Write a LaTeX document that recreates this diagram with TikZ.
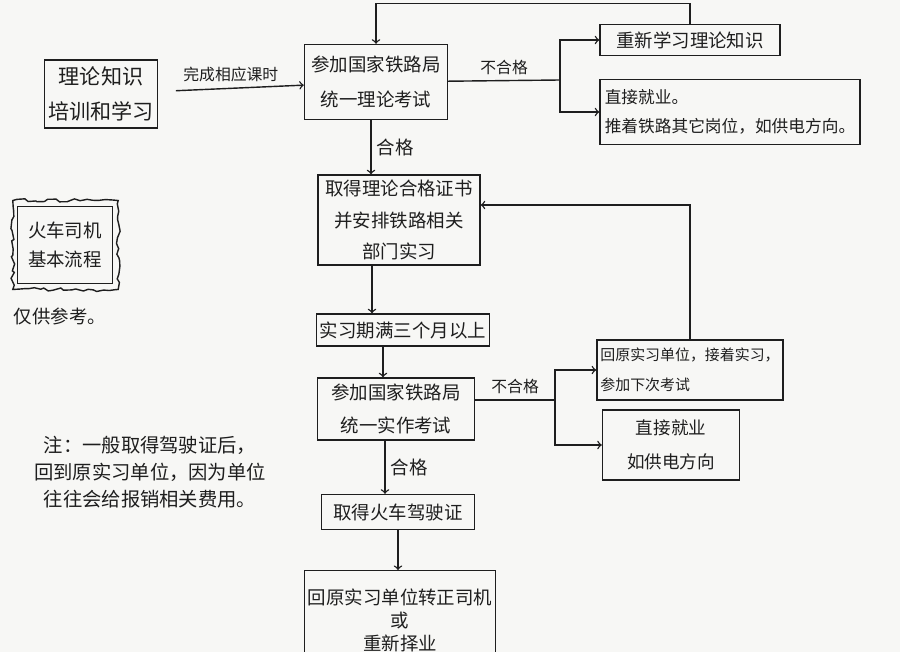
\documentclass[tikz,border=0pt]{standalone}
\usepackage{fontspec}
\setmainfont{Noto Sans CJK SC}
\usepackage{tikz}
\usetikzlibrary{arrows,positioning,calc}
\usetikzlibrary{decorations.pathmorphing}
\tikzstyle{stepbox}=[shape=rectangle,draw=ink,thick,align=center,inner sep=2pt]
\tikzstyle{flowedge}=[->,thick,draw=ink]
\tikzstyle{edgelabel}=[font=\fontsize{9}{11}\selectfont,inner sep=3pt,text=ink]
\definecolor{paper}{RGB}{247,247,245}
\definecolor{ink}{RGB}{30,30,30}

\begin{document}
\begin{tikzpicture}[x=0.2mm,y=-0.2mm,text=ink]

\clip (0,0) rectangle (900,652);
\fill[paper] (0,0) rectangle (900,652);

% main column
\node[stepbox,minimum width=22.4mm,minimum height=13.6mm,font=\fontsize{12}{20}\selectfont] (THEORY) at (101,94) {理论知识\\培训和学习};

\node[stepbox,minimum width=28.6mm,minimum height=15mm,font=\fontsize{10.5}{20}\selectfont] (EXAM1) at (376,82) {参加国家铁路局\\统一理论考试};

\node[stepbox,minimum width=36mm,minimum height=6.2mm,font=\fontsize{10.5}{14}\selectfont] (RELEARN) at (690,40) {重新学习理论知识};

\node[stepbox,minimum width=52mm,minimum height=13mm,align=left,font=\fontsize{9.5}{16.5}\selectfont] (JOB1) at (730,112) {直接就业。\\推着铁路其它岗位，如供电方向。};

\node[stepbox,minimum width=32.4mm,minimum height=18mm,font=\fontsize{10.5}{18}\selectfont] (PRACTICE) at (399,220) {取得理论合格证书\\并安排铁路相关\\部门实习};

\node[stepbox,minimum width=34mm,minimum height=6.4mm,font=\fontsize{10.5}{14}\selectfont] (TERM) at (403,330) {实习期满三个月以上};

\node[stepbox,minimum width=31.4mm,minimum height=12.4mm,font=\fontsize{10.5}{19}\selectfont] (EXAM2) at (396,409) {参加国家铁路局\\统一实作考试};

\node[stepbox,minimum width=36mm,minimum height=12mm,align=left,font=\fontsize{8.5}{17}\selectfont] (RETRY) at (690,370) {回原实习单位，接着实习，\\参加下次考试};

\node[stepbox,minimum width=27.4mm,minimum height=14mm,font=\fontsize{10}{19}\selectfont] (JOB2) at (671,445) {直接就业\\如供电方向};

\node[stepbox,minimum width=30.6mm,minimum height=7mm,font=\fontsize{10.5}{14}\selectfont] (LICENSE) at (398,512) {取得火车驾驶证};

\node[stepbox,minimum width=38mm,minimum height=20mm,anchor=north,font=\fontsize{10.5}{13}\selectfont] (FINAL) at (400,570) {回原实习单位转正司机\\或\\重新择业};

% side notes
\node[stepbox,minimum width=19mm,minimum height=15.5mm,font=\fontsize{10.5}{17}\selectfont] (TITLE) at (65,245) {火车司机\\基本流程};
\draw[ink,thick,decorate,decoration={random steps,segment length=3pt,amplitude=1.2pt}]
 ([shift={(-4,-5)}]TITLE.north west) rectangle ([shift={(5,5)}]TITLE.south east);
\node[font=\fontsize{10.5}{14}\selectfont] (ONLY) at (60,316) {仅供参考。};

\node[align=center,font=\fontsize{11}{15.5}\selectfont] (NOTE) at (150,472) {注：一般取得驾驶证后，\\回到原实习单位，因为单位\\往往会给报销相关费用。};

\coordinate (SPLIT1) at (560,80);
\coordinate (SPLIT2) at (555,400);

\path
(THEORY) edge [flowedge,shorten <=3.6mm] node[edgelabel,above] {完成相应课时} (EXAM1)
([xshift=-1mm]EXAM1.south) edge [flowedge] node[edgelabel,right,font=\fontsize{10.5}{12}\selectfont] {合格} ([xshift=-1mm]EXAM1.south |- PRACTICE.north)
([xshift=-5.4mm]PRACTICE.south) edge [flowedge] ([xshift=-5.4mm]PRACTICE.south |- TERM.north)
([xshift=-4mm]TERM.south) edge [flowedge] ([xshift=-4mm]TERM.south |- EXAM2.north)
([xshift=-2.2mm]EXAM2.south) edge [flowedge] node[edgelabel,right,font=\fontsize{10.5}{12}\selectfont] {合格} ([xshift=-2.2mm]EXAM2.south |- LICENSE.north)
(LICENSE.south) edge [flowedge] (LICENSE.south |- FINAL.north);

\draw[thick,ink] (EXAM1) -- node[edgelabel,above] {不合格} (SPLIT1);
\draw[flowedge] (SPLIT1) |- (RELEARN);
\draw[flowedge] (SPLIT1) |- (JOB1);

\draw[thick,ink] (EXAM2.east |- SPLIT2) -- node[edgelabel,above] {不合格} (SPLIT2);
\draw[flowedge] (SPLIT2) |- (RETRY);
\draw[flowedge] (SPLIT2) |- (JOB2);

% back loops
\draw[flowedge] (RELEARN.north) -- ++(0,-20) -| (EXAM1.north);
\draw[flowedge] (RETRY.north) |- ([yshift=3mm]PRACTICE.east);

\end{tikzpicture}
\end{document}
